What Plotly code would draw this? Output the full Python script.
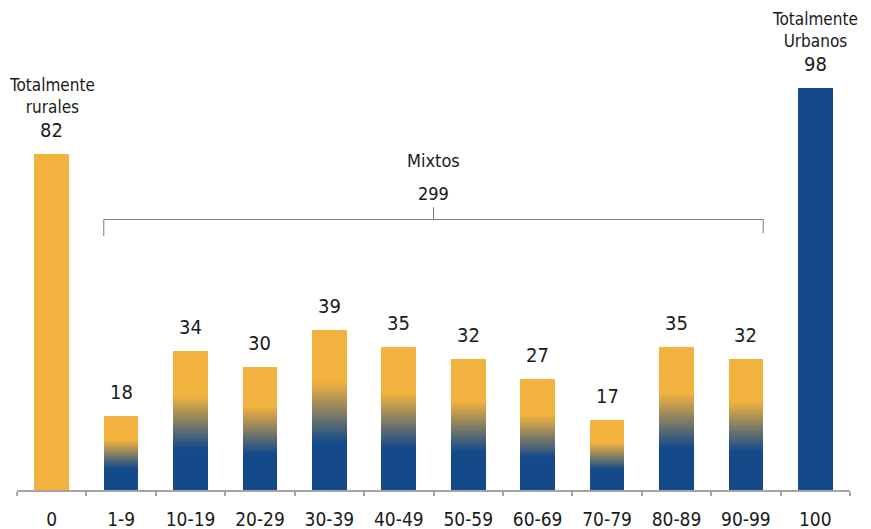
import plotly.graph_objects as go

# ---- data ----
categories = ["0", "1-9", "10-19", "20-29", "30-39", "40-49", "50-59",
              "60-69", "70-79", "80-89", "90-99", "100"]
counts = [82, 18, 34, 30, 39, 35, 32, 27, 17, 35, 32, 98]
rural_label = "Totalmente<br>rurales"
mixed_label = "Mixtos"
urban_label = "Totalmente<br>Urbanos"

YELLOW = (242, 178, 62)
BLUE = (21, 74, 138)
FONT = "DejaVu Sans Condensed, DejaVu Sans, sans-serif"
TXT = "#1a1a1a"


def rgb(c):
    return "rgb(%d,%d,%d)" % c


def mix(a, b, t):
    return tuple(round(a[i] + (b[i] - a[i]) * t) for i in range(3))


mixed_idx = list(range(1, len(categories) - 1))
mixed_cats = [categories[i] for i in mixed_idx]
mixed_vals = [counts[i] for i in mixed_idx]
mixed_total = sum(mixed_vals)

fig = go.Figure()

# solid end bars
fig.add_trace(go.Bar(x=[categories[0]], y=[counts[0]], marker_color=rgb(YELLOW),
                     marker_line_width=0, width=0.5, hoverinfo="x+y"))
fig.add_trace(go.Bar(x=[categories[-1]], y=[counts[-1]], marker_color=rgb(BLUE),
                     marker_line_width=0, width=0.5, hoverinfo="x+y"))

# mixed bars: blue bottom, gradient band, yellow top (stacked slices)
g0, g1, n = 0.30, 0.68, 40
fracs = [g0] + [(g1 - g0) / n] * n + [1 - g1]
cols = [BLUE] + [mix(BLUE, YELLOW, (k + 0.5) / n) for k in range(n)] + [YELLOW]
for f, c in zip(fracs, cols):
    fig.add_trace(go.Bar(x=mixed_cats, y=[v * f for v in mixed_vals],
                         marker_color=rgb(c), marker_line_width=0, width=0.5,
                         hoverinfo="skip"))

annos = []
for i, v in enumerate(counts):
    annos.append(dict(x=i, y=v, xref="x", yref="y", text=str(v), showarrow=False,
                      yanchor="middle", yshift=24,
                      font=dict(family=FONT, size=20, color=TXT)))
for i, lab in [(0, rural_label), (len(categories) - 1, urban_label)]:
    annos.append(dict(x=i, y=counts[i], xref="x", yref="y", text=lab, showarrow=False,
                      yanchor="middle", yshift=58, borderpad=0,
                      font=dict(family=FONT, size=17, color=TXT)))

# bracket over mixed group
by = 66
xl = mixed_idx[0] - 0.25
xr = mixed_idx[-1] + 0.25
xc = (mixed_idx[0] + mixed_idx[-1]) / 2
lc = dict(color="#7a7a7a", width=1)
shapes = [
    dict(type="line", xref="x", yref="y", x0=xl, x1=xr, y0=by, y1=by, line=lc),
    dict(type="line", xref="x", yref="y", x0=xl, x1=xl, y0=by, y1=by - 4, line=lc),
    dict(type="line", xref="x", yref="y", x0=xr, x1=xr, y0=by, y1=by - 3.3, line=lc),
    dict(type="line", xref="x", yref="y", x0=xc, x1=xc, y0=by, y1=by + 3, line=lc),
]
annos.append(dict(x=xc, y=by, xref="x", yref="y", text=mixed_label, showarrow=False,
                  yanchor="middle", yshift=59,
                  font=dict(family=FONT, size=18, color=TXT)))
annos.append(dict(x=xc, y=by, xref="x", yref="y", text=str(mixed_total),
                  showarrow=False, yanchor="middle", yshift=26,
                  font=dict(family=FONT, size=18, color=TXT)))

fig.update_layout(
    width=871, height=529,
    margin=dict(l=17, r=21, t=20, b=39, autoexpand=False),
    barmode="stack",
    showlegend=False,
    plot_bgcolor="white", paper_bgcolor="white",
    annotations=annos, shapes=shapes,
    xaxis=dict(type="category", categoryorder="array", categoryarray=categories,
               range=[-0.5, 11.5], showline=True, linecolor="#a5a5a5", linewidth=2,
               ticks="outside", tickson="boundaries", ticklen=4, tickcolor="#a5a5a5",
               tickwidth=1.5, showgrid=False, zeroline=False, automargin=False,
               tickfont=dict(family=FONT, size=19, color=TXT), ticklabelstandoff=11),
    yaxis=dict(range=[0, 114.7], visible=False, showgrid=False, zeroline=False,
               automargin=False),
)

fig.write_html("out.html", config={"displayModeBar": False},
               post_script="document.body.style.margin='0px';"
                           "document.body.style.overflow='hidden';")
